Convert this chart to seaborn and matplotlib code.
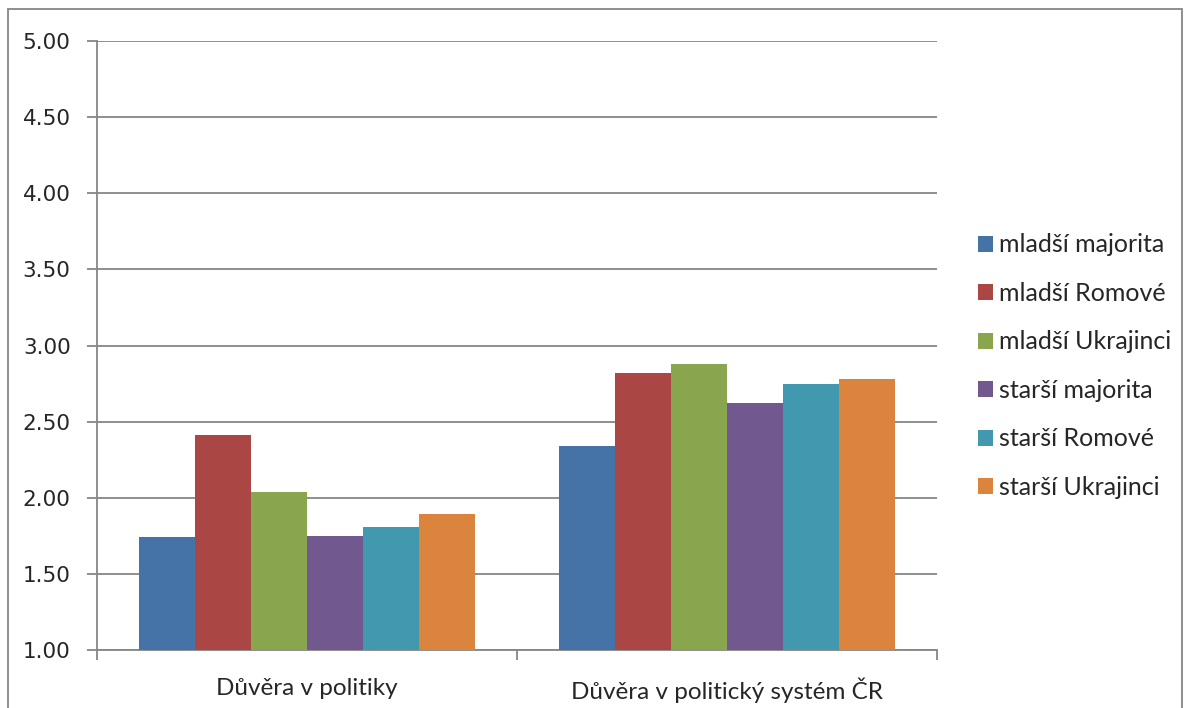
import pandas as pd
import seaborn as sns
import matplotlib.pyplot as plt
from matplotlib.patches import Rectangle

# Data
categories = ['Důvěra v politiky', 'Důvěra v politický systém ČR']
groups = ['mladší majorita', 'mladší Romové', 'mladší Ukrajinci',
          'starší majorita', 'starší Romové', 'starší Ukrajinci']
politiky = [1.74, 2.41, 2.04, 1.75, 1.81, 1.89]
system_cr = [2.34, 2.82, 2.88, 2.62, 2.75, 2.78]
colors = ['#4572A7', '#AA4643', '#89A54E', '#71588F', '#4198AF', '#DB843D']
y_ticks = [1.0, 1.5, 2.0, 2.5, 3.0, 3.5, 4.0, 4.5, 5.0]

df = pd.DataFrame({
    'kategorie': [categories[0]] * len(groups) + [categories[1]] * len(groups),
    'skupina': groups * 2,
    'hodnota': politiky + system_cr,
})

sns.set_style('white')
plt.rcParams['font.family'] = ['Lato', 'DejaVu Sans']
grid_color = '#868686'

fig = plt.figure(figsize=(11.85, 7.08), dpi=100)
ax = fig.add_axes([97 / 1185, 58 / 708, 840 / 1185, 609 / 708])

sns.barplot(data=df, x='kategorie', y='hodnota', hue='skupina',
            hue_order=groups, palette=colors, width=0.8,
            linewidth=0, saturation=1, ax=ax, zorder=3)

ax.set_ylim(1, 5)
ax.set_xlim(-0.5, 1.5)
ax.yaxis.grid(True, color=grid_color, linewidth=1.3, zorder=0)
ax.set_axisbelow(True)
ax.tick_params(axis='y', left=True, length=7, width=1.3, color=grid_color, pad=12)
ax.tick_params(axis='x', which='major', length=0, pad=20, labelsize=17.5)
ax.set_xticks([-0.5, 0.5, 1.5], minor=True)
ax.tick_params(axis='x', which='minor', bottom=True, length=7, width=1.3, color=grid_color)
ax.set_yticks(y_ticks, labels=[f'{v:.2f}' for v in y_ticks],
              fontfamily='DejaVu Sans', fontsize=15.5)
ax.set_xlabel('')
ax.set_ylabel('')
for side in ['top', 'right']:
    ax.spines[side].set_visible(False)
for side in ['left', 'bottom']:
    ax.spines[side].set_color(grid_color)
    ax.spines[side].set_linewidth(1.3)

handles, labels = ax.get_legend_handles_labels()
ax.legend(handles, labels, loc='center left', bbox_to_anchor=(1.049, 0.466),
          frameon=False, fontsize=18, handlelength=0.6, handleheight=0.6,
          handletextpad=0.25, labelspacing=1.02, borderpad=0, borderaxespad=0)

# outer chart border
fig.add_artist(Rectangle((8 / 1185, -0.01), 1174 / 1185, 0.997, transform=fig.transFigure,
                         fill=False, edgecolor=grid_color, linewidth=1.3))

fig.savefig('out.png', dpi=100)
